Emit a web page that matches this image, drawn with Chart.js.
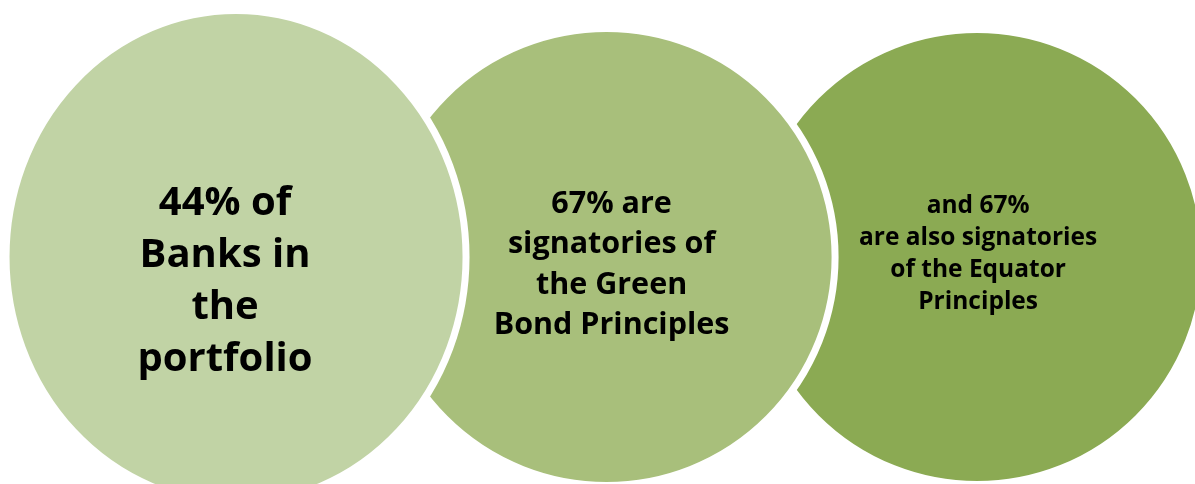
<!DOCTYPE html>
<html>
<head>
<meta charset="utf-8">
<script src="https://cdn.jsdelivr.net/npm/chart.js@4/dist/chart.umd.min.js"></script>
<style>
  html, body { margin: 0; padding: 0; background: #ffffff; }
  #wrap { width: 1195px; height: 484px; position: relative; }
</style>
</head>
<body>
<div id="wrap"><canvas id="c" width="1195" height="484"></canvas></div>
<script>
// ---- data ----
const categories = ["Banks in the portfolio", "Green Bond Principles", "Equator Principles"];
const positions = [1, 2, 3];          // order of the circles along the row
const levels = [0, 0, 0];             // all circles on the same row
const radii = [230, 228.5, 227.5];    // bubble radii (px)
const labelLines = [
  ["44% of", "Banks in", "the", "portfolio"],
  ["67% are", "signatories of", "the Green", "Bond Principles"],
  ["and 67%", "are also signatories", "of the Equator", "Principles"]
];

// ---- styles ----
const fills = ["#C1D3A5", "#A8BF7B", "#8BAA53"];
const textStyle = [
  { size: 40, lh: 52, dx: -11, dy: 36 },
  { size: 30.5, lh: 40.3, dx: 5, dy: 16.5 },
  { size: 24.5, lh: 32, dx: 1, dy: 4 }
];
const vStretch = [1.073, 1.0, 1.0];
const FONT = "'Open Sans', 'Noto Sans', sans-serif";

const datasets = categories.map((name, i) => ({
  label: name,
  data: [{ x: positions[i], y: levels[i], r: radii[i] }],
  backgroundColor: fills[i],
  borderColor: "#ffffff",
  borderWidth: 7,
  hoverBorderWidth: 7,
  clip: false
}));

const stretchPlugin = {
  id: "stretch",
  beforeDatasetDraw(chart, args) {
    const el = args.meta.data[0];
    const s = vStretch[args.index];
    const ctx = chart.ctx;
    ctx.save();
    ctx.translate(el.x, el.y);
    ctx.scale(1, s);
    ctx.translate(-el.x, -el.y);
  },
  afterDatasetDraw(chart) {
    chart.ctx.restore();
  }
};

const labelPlugin = {
  id: "circleLabels",
  afterDatasetsDraw(chart) {
    const ctx = chart.ctx;
    ctx.save();
    ctx.fillStyle = "#000000";
    ctx.textAlign = "center";
    ctx.textBaseline = "alphabetic";
    chart.data.datasets.forEach((ds, i) => {
      const el = chart.getDatasetMeta(i).data[0];
      const st = textStyle[i];
      const lines = labelLines[i];
      ctx.font = "bold " + st.size + "px " + FONT;
      const n = lines.length;
      lines.forEach((line, k) => {
        const y = el.y + st.dy + (k - (n - 1) / 2) * st.lh;
        ctx.fillText(line, el.x + st.dx, y);
      });
    });
    ctx.restore();
  }
};

new Chart(document.getElementById("c"), {
  type: "bubble",
  data: { datasets },
  options: {
    responsive: false,
    animation: false,
    events: [],
    layout: { padding: 0, autoPadding: false },
    plugins: { legend: { display: false }, tooltip: { enabled: false } },
    scales: {
      x: { type: "linear", min: 0.363, max: 3.588, display: false },
      y: { type: "linear", min: -1, max: 1.132, display: false }
    }
  },
  plugins: [stretchPlugin, labelPlugin]
});
</script>
</body>
</html>
